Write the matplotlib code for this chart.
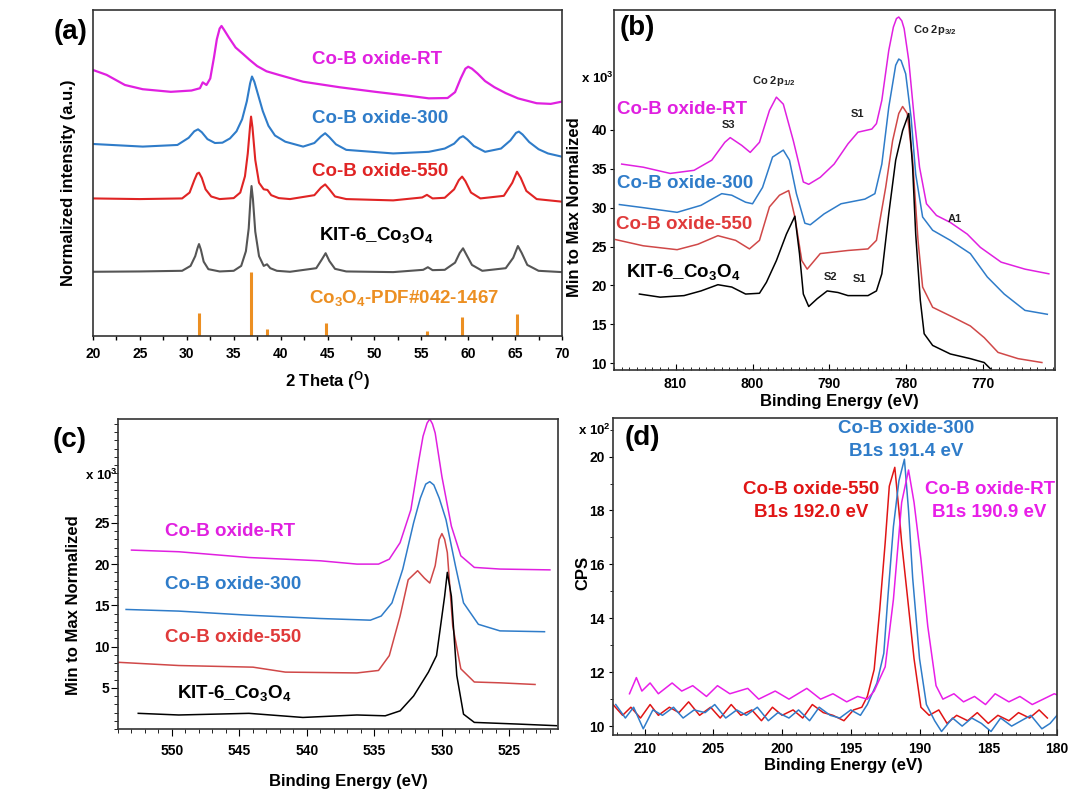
import matplotlib
matplotlib.use('Agg')
import matplotlib.pyplot as plt
from matplotlib.ticker import MultipleLocator

plt.rcParams['font.family'] = ['Liberation Sans', 'DejaVu Sans']
plt.rcParams['font.weight'] = 'bold'
plt.rcParams['axes.labelweight'] = 'bold'
plt.rcParams['mathtext.default'] = 'regular'

MAG = '#e020e0'
BLUE = '#2f7cc9'
RED = '#e02424'
RED_B = '#d04848'
GRAY = '#555555'
ORANGE = '#ec8f22'

# ----- (a) XRD -----
xrd_rt_x = [20, 21.45, 23.4, 25.3, 28.3, 30.5, 31.4, 31.7, 32.1, 32.5, 32.9, 33.2, 33.5, 33.7, 34.0, 34.5,
            35.2, 36.0, 36.7, 37.5, 38.5, 39.8, 42.4, 46.3, 50.1, 53.9, 55.8, 57.8, 58.6, 59.2, 59.7, 60.0,
            60.4, 61.0, 61.8, 62.8, 64.0, 65.3, 67.3, 68.8, 70]
xrd_rt_y = [81.6, 80.1, 77.0, 75.7, 74.9, 75.3, 76.0, 77.8, 77.0, 79.0, 85.5, 91.0, 94.3, 95.1, 93.8, 91.5,
            88.5, 86.5, 84.7, 82.8, 81.2, 80.1, 78.0, 76.3, 74.9, 73.6, 72.9, 73.0, 74.8, 79.0, 82.0, 82.6,
            82.0, 80.5, 78.2, 76.3, 74.5, 72.9, 71.4, 71.2, 71.9]
xrd_300_x = [20, 25.3, 29.0, 30.2, 30.8, 31.2, 31.6, 32.2, 33.0, 33.8, 34.6, 35.3, 35.9, 36.4, 36.75, 36.95,
             37.2, 37.6, 38.1, 38.7, 39.4, 40.5, 42.4, 43.6, 44.3, 44.75, 45.2, 45.9, 47.0, 52.0, 55.8, 57.5,
             58.5, 59.1, 59.45, 59.9, 60.6, 61.8, 63.5, 64.5, 65.1, 65.4, 65.8, 66.5, 67.5, 68.5, 70]
xrd_300_y = [58.9, 58.1, 58.6, 60.8, 62.8, 63.4, 62.5, 60.4, 59.2, 59.3, 60.6, 62.8, 66.5, 72.0, 77.5, 79.6,
             78.0, 74.0, 69.0, 64.5, 61.5, 59.6, 58.1, 59.2, 61.2, 62.2, 61.0, 58.8, 57.1, 56.0, 56.5, 57.5,
             59.0, 60.8, 61.3, 60.3, 58.3, 56.5, 57.5, 60.0, 62.3, 62.7, 61.8, 59.5, 57.3, 56.0, 55.0]
xrd_550_x = [20, 25, 29.5, 30.3, 30.8, 31.1, 31.3, 31.6, 32.0, 32.6, 33.5, 35.0, 35.7, 36.2, 36.5, 36.75,
             36.85, 37.0, 37.3, 37.7, 38.2, 38.6, 39.0, 39.8, 41, 43.6, 44.3, 44.75, 45.2, 45.8, 47, 52,
             55.1, 55.6, 56.2, 57.5, 58.5, 59.0, 59.35, 59.7, 60.3, 61.3, 63.8, 64.7, 65.2, 65.6, 66.2,
             67.3, 70]
xrd_550_y = [42.2, 42.0, 42.2, 44.0, 47.8, 49.8, 50.1, 48.5, 45.0, 42.8, 42.0, 42.3, 44.0, 49.0, 56.0, 64.5,
             67.3, 64.0, 54.0, 47.0, 45.0, 44.8, 43.2, 42.3, 42.0, 43.2, 45.5, 46.5, 45.0, 42.8, 42.0, 41.6,
             42.5, 43.3, 42.2, 42.4, 45.0, 47.8, 48.9, 47.5, 44.0, 42.2, 43.0, 47.0, 50.4, 48.5, 44.5,
             42.0, 41.2]
xrd_kit_x = [20, 25, 29.5, 30.4, 30.9, 31.15, 31.3, 31.5, 31.8, 32.3, 33.5, 35.0, 35.8, 36.3, 36.6, 36.8,
             36.9, 37.05, 37.3, 37.7, 38.2, 38.55, 38.9, 39.6, 41, 43.8, 44.4, 44.8, 45.2, 45.8, 47, 52,
             55.2, 55.7, 56.2, 57.5, 58.6, 59.1, 59.45, 59.8, 60.4, 61.5, 64.0, 64.8, 65.3, 65.7, 66.3,
             67.5, 70]
xrd_kit_y = [19.7, 19.8, 20.0, 21.5, 24.5, 27.0, 28.2, 26.5, 22.8, 20.5, 19.8, 20.0, 21.5, 26.0, 33.0, 42.5,
             46.0, 42.0, 32.0, 24.5, 21.5, 22.0, 20.8, 20.0, 19.7, 20.8, 23.5, 25.4, 23.0, 20.6, 19.8, 19.6,
             20.3, 21.1, 20.2, 20.3, 22.5, 25.5, 26.9, 25.0, 21.8, 20.0, 20.8, 24.0, 27.6, 25.5, 21.8,
             20.0, 19.6]
pdf_pos = [31.27, 36.85, 38.55, 44.81, 55.66, 59.36, 65.23]
pdf_h = [7.0, 19.7, 2.0, 3.9, 1.6, 5.7, 6.7]

# ----- (b) Co 2p -----
co_rt_x = [817.0, 814.2, 810.7, 807.6, 805.3, 803.6, 802.9, 801.4, 800.3, 799.1, 797.8, 796.9, 796.0, 794.7,
           793.4, 792.7, 791.2, 789.4, 787.6, 786.3, 784.5, 783.9, 783.2, 782.3, 781.7, 781.3, 781.0, 780.6,
           780.3, 779.7, 779.0, 778.3, 777.4, 776.1, 774.3, 772.1, 770.4, 767.7, 764.6, 761.5]
co_rt_y = [35.6, 35.2, 34.4, 34.8, 36.1, 38.4, 39.0, 38.0, 37.1, 38.4, 42.5, 44.2, 43.3, 38.6,
           33.3, 33.0, 33.9, 35.6, 38.2, 39.7, 40.1, 40.8, 43.8, 50.2, 53.2, 54.3, 54.5, 54.0,
           53.0, 48.9, 41.6, 35.2, 30.5, 29.0, 28.1, 26.6, 24.9, 23.0, 22.1, 21.5]
co_300_x = [817.3, 814.2, 809.8, 806.7, 804.0, 802.7, 800.9, 800.0, 798.7, 797.4, 796.0, 795.2, 794.3, 793.2,
            792.5, 790.7, 788.5, 785.4, 784.1, 783.2, 782.3, 781.4, 781.0, 780.7, 780.1, 779.4, 778.8, 777.9,
            776.6, 774.3, 771.7, 769.5, 767.3, 764.6, 761.7]
co_300_y = [30.4, 30.0, 29.4, 30.3, 31.8, 31.6, 30.7, 30.5, 32.6, 36.5, 37.4, 36.1, 31.8, 28.0,
            27.8, 29.2, 30.5, 31.1, 31.8, 35.6, 42.9, 48.3, 49.1, 48.9, 47.2, 41.6, 34.3, 28.8,
            27.1, 25.8, 24.1, 21.1, 18.9, 16.8, 16.3]
co_550_x = [817.8, 814.2, 809.8, 807.1, 804.5, 802.2, 800.4, 799.1, 797.8, 796.5, 795.3, 794.5, 793.6, 792.9,
            791.2, 787.6, 785.0, 783.9, 782.7, 781.8, 781.0, 780.5, 779.9, 779.2, 778.5, 777.9, 776.6, 773.9,
            771.7, 769.9, 768.1, 765.5, 762.4]
co_550_y = [25.9, 25.1, 24.6, 25.3, 26.4, 25.8, 24.7, 25.8, 30.1, 31.6, 32.2, 28.8, 23.2, 22.1,
            24.1, 24.5, 24.7, 25.8, 32.6, 38.6, 42.1, 43.0, 42.1, 36.1, 25.8, 19.8, 17.2, 15.9,
            14.8, 13.3, 11.4, 10.6, 10.1]
co_kit_x = [814.7, 812.0, 808.9, 806.7, 804.5, 802.7, 800.9, 799.1, 798.2, 796.9, 795.6, 794.5, 793.9, 793.4,
            792.7, 791.6, 790.3, 788.9, 787.6, 785.0, 783.9, 783.2, 782.3, 781.4, 780.5, 779.7, 779.2, 778.8,
            778.2, 777.7, 776.6, 774.3, 771.7, 769.9, 769.1]
co_kit_y = [18.9, 18.5, 18.7, 19.3, 20.1, 19.8, 18.9, 19.0, 20.4, 23.2, 26.6, 28.9, 24.1, 18.9,
            17.3, 18.3, 19.3, 19.1, 18.7, 18.7, 19.3, 21.5, 29.2, 36.1, 39.9, 42.1, 35.2, 26.6,
            18.1, 13.8, 12.3, 11.2, 10.6, 10.1, 9.3]

# ----- (c) O 1s -----
o_rt_x = [553.0, 549.5, 544.3, 539.0, 536.3, 534.7, 533.9, 533.1, 532.3, 531.7, 531.4, 531.1, 530.9, 530.7,
          530.5, 530.0, 529.3, 528.6, 527.6, 525.7, 522.0]
o_rt_y = [21.7, 21.5, 20.8, 20.4, 20.0, 20.0, 20.6, 22.6, 26.6, 32.7, 35.5, 37.1, 37.6, 37.0,
          35.9, 30.6, 24.6, 21.0, 19.6, 19.4, 19.3]
o_300_x = [553.4, 549.5, 544.3, 539.0, 535.3, 534.5, 533.7, 532.9, 532.1, 531.6, 531.2, 530.9, 530.6, 530.2,
           529.7, 529.0, 528.4, 527.3, 525.7, 522.4]
o_300_y = [14.5, 14.3, 13.8, 13.4, 13.2, 13.7, 15.3, 19.4, 25.0, 28.0, 29.7, 30.0, 29.6, 28.0,
           25.4, 19.8, 15.3, 12.7, 11.9, 11.8]
o_550_x = [554.1, 549.5, 544.0, 541.6, 536.3, 534.7, 533.9, 533.1, 532.5, 531.8, 531.3, 530.9, 530.5, 530.2,
           530.0, 529.8, 529.6, 529.2, 528.6, 527.6, 525.7, 523.1]
o_550_y = [8.1, 7.7, 7.5, 6.9, 6.8, 7.1, 8.9, 13.7, 18.1, 19.2, 18.3, 17.7, 19.8, 23.0,
           23.7, 23.0, 21.4, 12.5, 7.3, 5.7, 5.6, 5.4]
o_kit_x = [552.5, 549.5, 544.3, 540.3, 536.3, 534.2, 533.1, 532.1, 531.0, 530.4, 529.8, 529.6, 529.3, 528.9,
           528.4, 527.6, 524.4, 521.5]
o_kit_y = [1.9, 1.7, 1.9, 1.4, 1.7, 1.6, 2.2, 4.0, 6.9, 8.9, 16.1, 19.0, 16.1, 6.5,
           1.8, 0.8, 0.6, 0.4]

# ----- (d) B 1s -----
b_550_x = [212.3, 211.6, 211.0, 210.3, 209.6, 209.0, 208.2, 207.5, 206.8, 206.0, 205.2, 204.5, 203.7, 203.0,
           202.2, 201.5, 200.7, 200.0, 199.2, 198.5, 197.8, 197.0, 196.3, 195.5, 194.8, 194.2, 193.8, 193.3,
           192.9, 192.5, 192.2, 191.8, 191.5, 191.3, 190.9, 190.4, 189.9, 189.3, 188.6, 188.0, 187.3, 186.5,
           185.8, 185.0, 184.3, 183.5, 182.8, 182.0, 181.3, 180.7]
b_550_y = [10.8, 10.4, 10.7, 10.3, 10.8, 10.4, 10.7, 10.5, 10.9, 10.4, 10.7, 10.3, 10.8, 10.4,
           10.6, 10.2, 10.7, 10.4, 10.6, 10.3, 10.8, 10.5, 10.4, 10.2, 10.6, 10.7, 11.1, 12.1,
           14.3, 16.8, 18.9, 19.6, 18.0, 16.8, 14.9, 12.5, 10.7, 10.4, 10.6, 10.1, 10.4, 10.2,
           10.5, 10.1, 10.4, 10.2, 10.5, 10.3, 10.6, 10.3]
b_300_x = [212.1, 211.4, 210.8, 210.1, 209.4, 208.7, 207.9, 207.2, 206.4, 205.6, 204.9, 204.1, 203.3, 202.6,
           201.8, 201.0, 200.3, 199.5, 198.8, 198.0, 197.3, 196.5, 195.8, 195.0, 194.3, 193.8, 193.1, 192.6,
           192.3, 191.9, 191.5, 191.1, 190.8, 190.5, 190.0, 189.5, 188.9, 188.4, 187.6, 186.9, 186.2, 185.5,
           184.8, 184.1, 183.3, 182.6, 181.9, 181.1, 180.5, 180.0]
b_300_y = [10.8, 10.3, 10.7, 9.9, 10.6, 10.4, 10.7, 10.3, 10.6, 10.5, 10.8, 10.3, 10.6, 10.4,
           10.7, 10.2, 10.5, 10.3, 10.6, 10.2, 10.7, 10.4, 10.3, 10.6, 10.4, 10.8, 11.6, 12.7,
           14.8, 17.4, 19.1, 19.9, 18.0, 15.5, 12.5, 10.8, 10.2, 9.8, 10.3, 10.0, 10.3, 10.1,
           9.8, 10.3, 10.0, 10.2, 10.4, 9.9, 10.1, 10.4]
b_rt_x = [211.1, 210.6, 210.2, 209.6, 209.0, 208.0, 207.3, 206.5, 205.5, 204.7, 203.8, 202.5, 201.7, 200.5,
          199.5, 198.2, 197.2, 196.3, 195.3, 194.5, 193.8, 193.3, 192.5, 191.9, 191.3, 190.8, 190.4, 189.9,
          189.4, 188.8, 188.3, 187.5, 186.8, 186.0, 185.2, 184.5, 183.5, 182.7, 181.8, 181.0, 180.2, 179.7]
b_rt_y = [11.2, 11.8, 11.3, 11.6, 11.2, 11.6, 11.3, 11.5, 11.1, 11.5, 11.2, 11.4, 11.0, 11.3,
          11.0, 11.4, 11.0, 11.2, 10.9, 11.1, 11.0, 11.3, 12.2, 14.7, 18.3, 19.5, 18.3, 16.2,
          13.7, 11.5, 11.0, 11.2, 10.9, 11.1, 10.8, 11.2, 10.9, 11.1, 10.8, 11.0, 11.2, 11.1]

W, H = 1080, 793
fig = plt.figure(figsize=(W / 100, H / 100), dpi=100)


def px_axes(l, t, r, b):
    return fig.add_axes([l / W, 1 - b / H, (r - l) / W, (b - t) / H])


def px_text(x, y, s, **kw):
    fig.text(x / W, 1 - y / H, s, ha='center', va='center', **kw)


lab = dict(fontsize=13.5, fontweight='bold', ha='center', va='center')
lab_l = dict(lab, ha='left')

# Panel (a)
ax = px_axes(93, 10, 562, 336)
ax.plot(xrd_rt_x, xrd_rt_y, color=MAG, lw=1.6)
ax.plot(xrd_300_x, xrd_300_y, color=BLUE, lw=1.5)
ax.plot(xrd_550_x, xrd_550_y, color=RED, lw=1.5)
ax.plot(xrd_kit_x, xrd_kit_y, color=GRAY, lw=1.5)
ax.vlines(pdf_pos, 0, pdf_h, color=ORANGE, lw=2.2)
ax.set_xlim(20, 70)
ax.set_ylim(0, 100)
ax.xaxis.set_major_locator(MultipleLocator(5))
ax.xaxis.set_minor_locator(MultipleLocator(2.5))
ax.set_yticks([])
ax.tick_params(axis='x', which='both', direction='out', length=3, width=1, labelsize=10, pad=5)
ax.text(50.3, 84.7, 'Co-B oxide-RT', color=MAG, **lab)
ax.text(50.6, 66.6, 'Co-B oxide-300', color=BLUE, **lab)
ax.text(50.6, 50.6, 'Co-B oxide-550', color=RED, **lab)
ax.text(50.2, 31.0, 'KIT-6_Co$_3$O$_4$', color='black', **lab)
ax.text(53.2, 11.7, 'Co$_3$O$_4$-PDF#042-1467', color=ORANGE, **lab)
ax.set_xlabel('2 Theta ($^O$)', fontsize=12)
ax.set_ylabel('Normalized intensity (a.u.)', fontsize=12)
ax.xaxis.set_label_coords(0.5, -0.1)
ax.yaxis.set_label_coords(-0.036, 0.469)
px_text(71, 32, '(a)', fontsize=20, fontweight='bold')

# Panel (b)
ax = px_axes(614, 10, 1055, 370)
ax.plot(co_rt_x, co_rt_y, color=MAG, lw=1.1)
ax.plot(co_300_x, co_300_y, color=BLUE, lw=1.1)
ax.plot(co_550_x, co_550_y, color=RED_B, lw=1.1)
ax.plot(co_kit_x, co_kit_y, color='black', lw=1.1)
ax.set_xlim(818, 760.7)
ax.set_ylim(9.14, 55.4)
ax.set_yticks([10, 15, 20, 25, 30, 35, 40])
ax.xaxis.set_major_locator(MultipleLocator(10))
ax.xaxis.set_minor_locator(MultipleLocator(1))
ax.tick_params(axis='x', which='major', direction='in', length=4, labelsize=10, pad=5)
ax.tick_params(axis='x', which='minor', direction='in', length=2)
ax.tick_params(axis='y', direction='out', length=3, labelsize=10, pad=2)
ax.text(817.6, 42.6, 'Co-B oxide-RT', color=MAG, **lab_l)
ax.text(817.6, 33.1, 'Co-B oxide-300', color=BLUE, **lab_l)
ax.text(817.8, 27.8, 'Co-B oxide-550', color='#e03a3a', **lab_l)
ax.text(816.5, 21.7, 'KIT-6_Co$_3$O$_4$', color='black', **lab_l)
sm = dict(fontsize=8, fontweight='bold', ha='center', va='center', color='#222222')
ax.text(803.1, 40.6, 'S3', **sm)
ax.text(797.2, 46.3, 'Co 2p$_{1/2}$', **sm)
ax.text(786.4, 42.1, 'S1', **sm)
ax.text(776.3, 52.8, 'Co 2p$_{3/2}$', **sm)
ax.text(773.7, 28.6, 'A1', **sm)
ax.text(789.8, 21.1, 'S2', **sm)
ax.text(786.1, 20.8, 'S1', **sm)
ax.set_xlabel('Binding Energy (eV)', fontsize=12)
ax.set_ylabel('Min to Max Normalized', fontsize=12)
ax.xaxis.set_label_coords(0.512, -0.067)
ax.yaxis.set_label_coords(-0.073, 0.453)
px_text(597, 78, 'x 10$^3$', fontsize=9.5, fontweight='bold')
px_text(637, 28, '(b)', fontsize=20, fontweight='bold')

# Panel (c)
ax = px_axes(118, 419, 558, 729)
ax.plot(o_rt_x, o_rt_y, color=MAG, lw=1.1)
ax.plot(o_300_x, o_300_y, color=BLUE, lw=1.1)
ax.plot(o_550_x, o_550_y, color=RED_B, lw=1.1)
ax.plot(o_kit_x, o_kit_y, color='black', lw=1.1)
ax.set_xlim(554.0, 521.4)
ax.set_ylim(0, 37.6)
ax.set_yticks([5, 10, 15, 20, 25])
ax.yaxis.set_minor_locator(MultipleLocator(1))
ax.xaxis.set_major_locator(MultipleLocator(5))
ax.xaxis.set_minor_locator(MultipleLocator(1))
ax.tick_params(axis='x', which='major', direction='out', length=5, labelsize=10, pad=6)
ax.tick_params(axis='x', which='minor', direction='out', length=3)
ax.tick_params(axis='y', which='major', direction='out', length=5, labelsize=10, pad=1)
ax.tick_params(axis='y', which='minor', direction='out', length=3)
ax.text(545.7, 24.0, 'Co-B oxide-RT', color=MAG, **lab)
ax.text(545.5, 17.5, 'Co-B oxide-300', color=BLUE, **lab)
ax.text(545.5, 11.1, 'Co-B oxide-550', color='#e03a3a', **lab)
ax.text(549.6, 4.4, 'KIT-6_Co$_3$O$_4$', color='black', **lab_l)
ax.set_xlabel('Binding Energy (eV)', fontsize=12)
ax.set_ylabel('Min to Max Normalized', fontsize=12)
ax.xaxis.set_label_coords(0.524, -0.145)
ax.yaxis.set_label_coords(-0.085, 0.401)
px_text(101, 475, 'x 10$^3$', fontsize=9.5, fontweight='bold')
px_text(70, 440, '(c)', fontsize=20, fontweight='bold')

# Panel (d)
ax = px_axes(613, 418, 1057, 735)
ax.plot(b_550_x, b_550_y, color='#e01515', lw=1.1)
ax.plot(b_300_x, b_300_y, color=BLUE, lw=1.1)
ax.plot(b_rt_x, b_rt_y, color='#e81ee8', lw=1.1)
ax.set_xlim(212.3, 180)
ax.set_ylim(9.67, 21.43)
ax.set_yticks([10, 12, 14, 16, 18, 20])
ax.yaxis.set_minor_locator(MultipleLocator(1))
ax.xaxis.set_major_locator(MultipleLocator(5))
ax.xaxis.set_minor_locator(MultipleLocator(1))
ax.tick_params(axis='x', which='major', direction='in', length=4, labelsize=10, pad=5)
ax.tick_params(axis='x', which='minor', direction='in', length=2)
ax.tick_params(axis='y', which='major', direction='out', length=3, labelsize=10, pad=3)
ax.tick_params(axis='y', which='minor', direction='out', length=2)
ax.text(191.0, 21.05, 'Co-B oxide-300', color=BLUE, **lab)
ax.text(191.0, 20.19, 'B1s 191.4 eV', color=BLUE, **lab)
ax.text(197.9, 18.76, 'Co-B oxide-550', color='#e01515', **lab)
ax.text(197.9, 17.92, 'B1s 192.0 eV', color='#e01515', **lab)
ax.text(184.9, 18.76, 'Co-B oxide-RT', color='#e81ee8', **lab)
ax.text(184.9, 17.92, 'B1s 190.9 eV', color='#e81ee8', **lab)
ax.set_xlabel('Binding Energy (eV)', fontsize=12)
ax.set_ylabel('CPS', fontsize=12)
ax.xaxis.set_label_coords(0.518, -0.073)
ax.yaxis.set_label_coords(-0.051, 0.512)
px_text(594, 430, 'x 10$^2$', fontsize=9.5, fontweight='bold')
px_text(642, 438, '(d)', fontsize=20, fontweight='bold')

for a in fig.axes:
    for s in a.spines.values():
        s.set_color('#333333')
        s.set_linewidth(1.2)

fig.savefig('out.png', dpi=100)
